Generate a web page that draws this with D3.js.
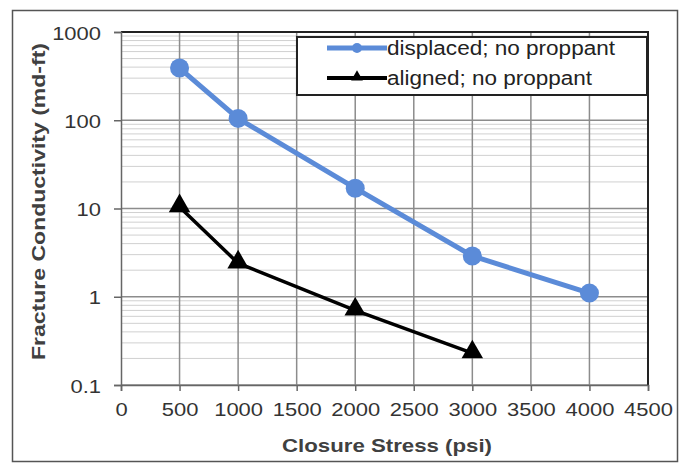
<!DOCTYPE html>
<meta charset="utf-8">
<html>
<head>
<style>
  body { margin: 0; background: #fff; }
  text { font-family: "Liberation Sans", Arial, sans-serif; }
</style>
</head>
<body>
<script src="https://d3js.org/d3.v7.min.js"></script>
<script>
// values
var stressDisplaced = [500, 1000, 2000, 3000, 4000];
var condDisplaced = [390, 105, 17, 2.9, 1.1];
var stressAligned = [500, 1000, 2000, 3000];
var condAligned = [10.4, 2.4, 0.7, 0.23];
var xTicks = [0, 500, 1000, 1500, 2000, 2500, 3000, 3500, 4000, 4500];
var yTicks = [0.1, 1, 10, 100, 1000];
var seriesNames = ["displaced; no proppant", "aligned; no proppant"];

var W = 683, H = 464;
var svg = d3.select("body").append("svg").attr("width", W).attr("height", H);

// widen text a bit, the original font runs wide
function stretch(sel, k) {
  sel.each(function () {
    var n = this.getComputedTextLength();
    d3.select(this).attr("textLength", n * k).attr("lengthAdjust", "spacingAndGlyphs");
  });
}

// outer frame
svg.append("rect").attr("x", 12.5).attr("y", 10.5).attr("width", 665).attr("height", 451)
  .attr("fill", "#fff").attr("stroke", "#555").attr("stroke-width", 1.5);

var pLeft = 121, pRight = 648, pTop = 32, pBottom = 385;
var x = d3.scaleLinear().domain([0, 4500]).range([pLeft, pRight]);
var y = d3.scaleLog().domain([0.1, 1000]).range([pBottom, pTop]);

// minor horizontal grid
var minor = [];
yTicks.slice(0, -1).forEach(function (d) {
  for (var k = 2; k <= 9; k++) minor.push(d * k);
});
svg.append("g").selectAll("line").data(minor).join("line")
  .attr("x1", pLeft).attr("x2", pRight)
  .attr("y1", function (d) { return y(d); }).attr("y2", function (d) { return y(d); })
  .attr("stroke", "#d0d0d0").attr("stroke-width", 1);

// major horizontal grid
svg.append("g").selectAll("line").data(yTicks).join("line")
  .attr("x1", pLeft).attr("x2", pRight)
  .attr("y1", function (d) { return y(d); }).attr("y2", function (d) { return y(d); })
  .attr("stroke", "#8c8c8c").attr("stroke-width", 1.5);

// vertical grid
svg.append("g").selectAll("line").data(xTicks.slice(1)).join("line")
  .attr("x1", function (d) { return x(d); }).attr("x2", function (d) { return x(d); })
  .attr("y1", pTop).attr("y2", pBottom)
  .attr("stroke", "#8c8c8c").attr("stroke-width", 1.5);

// plot border top/right
svg.append("path").attr("d", "M" + pLeft + "," + pTop + "H" + pRight + "V" + pBottom)
  .attr("fill", "none").attr("stroke", "#222").attr("stroke-width", 2);

// axes
var xAxis = svg.append("g").attr("transform", "translate(0," + pBottom + ")")
  .call(d3.axisBottom(x).tickValues(xTicks).tickSize(6).tickPadding(12).tickFormat(d3.format("d")));
var yAxis = svg.append("g").attr("transform", "translate(" + pLeft + ",0)")
  .call(d3.axisLeft(y).tickValues(yTicks).tickSize(7).tickPadding(13).tickFormat(function (d) { return d < 1 ? "0.1" : String(d); }));
[xAxis, yAxis].forEach(function (a) {
  a.select(".domain").attr("stroke", "#666").attr("stroke-width", 1.5);
  a.selectAll(".tick line").attr("stroke", "#666").attr("stroke-width", 1.5);
  a.selectAll(".tick text").attr("fill", "#333").style("font-size", "18px").call(stretch, 1.22);
});
yAxis.selectAll(".tick text").attr("dy", "0.4em");

// axis titles (anchored at start so the stretched length stays put)
svg.append("text").attr("x", 282).attr("y", 452)
  .attr("fill", "#404040").style("font-size", "19px").style("font-weight", "bold")
  .attr("textLength", 210).attr("lengthAdjust", "spacingAndGlyphs")
  .text("Closure Stress (psi)");
svg.append("text").attr("transform", "translate(45,360) rotate(-90)")
  .attr("fill", "#404040").style("font-size", "19px").style("font-weight", "bold")
  .attr("textLength", 317).attr("lengthAdjust", "spacingAndGlyphs")
  .text("Fracture Conductivity (md-ft)");

// series
var blue = "#5b8bd8";
var line = d3.line().x(function (d) { return x(d[0]); }).y(function (d) { return y(d[1]); });
var dispData = d3.zip(stressDisplaced, condDisplaced);
var alignData = d3.zip(stressAligned, condAligned);

svg.append("path").datum(dispData).attr("d", line)
  .attr("fill", "none").attr("stroke", blue).attr("stroke-width", 5);
svg.append("g").selectAll("circle").data(dispData).join("circle")
  .attr("cx", function (d) { return x(d[0]); }).attr("cy", function (d) { return y(d[1]); })
  .attr("r", 9.5).attr("fill", blue);

var tri = d3.symbol().type(d3.symbolTriangle).size(200);
svg.append("path").datum(alignData).attr("d", line)
  .attr("fill", "none").attr("stroke", "#000").attr("stroke-width", 3.5);
svg.append("g").selectAll("path").data(alignData).join("path")
  .attr("d", tri)
  .attr("transform", function (d) { return "translate(" + x(d[0]) + "," + (y(d[1]) - 1) + ")"; })
  .attr("fill", "#000");

// legend
var lg = svg.append("g");
lg.append("rect").attr("x", 297).attr("y", 37).attr("width", 350).attr("height", 58)
  .attr("fill", "#fff").attr("stroke", "#222").attr("stroke-width", 2);
var legRows = [{ name: seriesNames[0], color: blue, w: 5, sym: "circle", len: 228 },
               { name: seriesNames[1], color: "#000", w: 4, sym: "tri", len: 205 }];
legRows.forEach(function (r, i) {
  var yy = 48 + i * 30;
  lg.append("line").attr("x1", 327).attr("x2", 387).attr("y1", yy).attr("y2", yy)
    .attr("stroke", r.color).attr("stroke-width", r.w);
  if (r.sym === "circle") {
    lg.append("circle").attr("cx", 357).attr("cy", yy).attr("r", 5).attr("fill", r.color);
  } else {
    lg.append("path").attr("d", d3.symbol().type(d3.symbolTriangle).size(60))
      .attr("transform", "translate(357," + (yy - 1) + ")").attr("fill", r.color);
  }
  lg.append("text").attr("x", 387).attr("y", yy + 7).attr("fill", "#222")
    .style("font-size", "20px").attr("textLength", r.len).attr("lengthAdjust", "spacingAndGlyphs")
    .text(r.name);
});
</script>
</body>
</html>
